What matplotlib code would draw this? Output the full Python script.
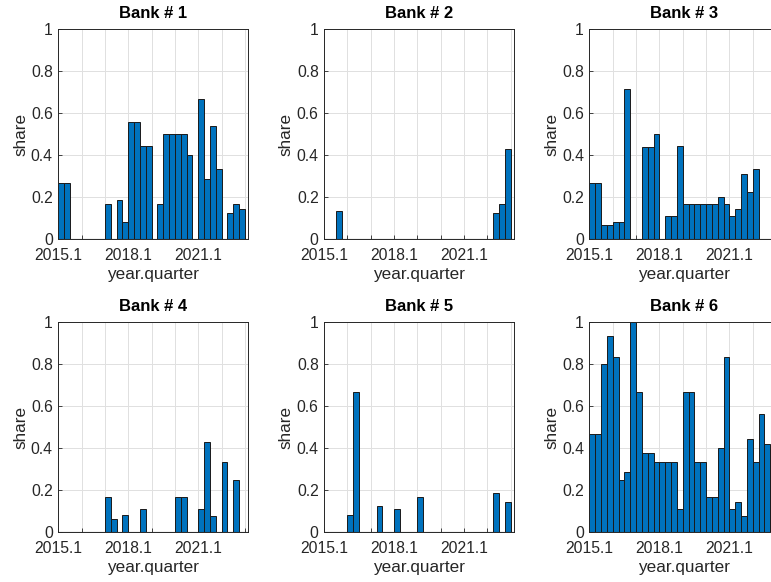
import matplotlib
matplotlib.use("Agg")
import matplotlib.pyplot as plt
import numpy as np

plt.rcParams['font.family'] = ['Liberation Sans', 'DejaVu Sans']

quarters = list(range(32))  # 2015Q1 .. 2022Q4
tick_labels = ['2015.1', '', '', '2018.1', '', '', '2021.1', '', '']
titles = ['Bank # 1', 'Bank # 2', 'Bank # 3', 'Bank # 4', 'Bank # 5', 'Bank # 6']

bank1 = [0.267, 0.267, 0, 0, 0, 0, 0, 0, 0.167, 0, 0.1875, 0.083, 0.556, 0.556, 0.444, 0.444,
         0, 0.167, 0.5, 0.5, 0.5, 0.5, 0.4, 0, 0.667, 0.286, 0.54, 0.333, 0, 0.125, 0.167, 0.143]
bank2 = [0, 0, 0.133, 0, 0, 0, 0, 0, 0, 0, 0, 0, 0, 0, 0, 0,
         0, 0, 0, 0, 0, 0, 0, 0, 0, 0, 0, 0, 0, 0.125, 0.167, 0.429]
bank3 = [0.267, 0.267, 0.067, 0.067, 0.083, 0.083, 0.714, 0, 0, 0.4375, 0.4375, 0.5, 0, 0.111, 0.111, 0.444,
         0.167, 0.167, 0.167, 0.167, 0.167, 0.167, 0.2, 0.167, 0.111, 0.143, 0.308, 0.222, 0.333, 0, 0, 0]
bank4 = [0, 0, 0, 0, 0, 0, 0, 0, 0.167, 0.0625, 0, 0.083, 0, 0, 0.111, 0,
         0, 0, 0, 0, 0.167, 0.167, 0, 0, 0.111, 0.429, 0.077, 0, 0.333, 0, 0.25, 0]
bank5 = [0, 0, 0, 0, 0.083, 0.667, 0, 0, 0, 0.125, 0, 0, 0.111, 0, 0, 0,
         0.167, 0, 0, 0, 0, 0, 0, 0, 0, 0, 0, 0, 0, 0.1875, 0, 0.143]
bank6 = [0.467, 0.467, 0.8, 0.933, 0.833, 0.25, 0.286, 1.0, 0.667, 0.375, 0.375, 0.333, 0.333, 0.333, 0.333, 0.111,
         0.667, 0.667, 0.333, 0.333, 0.167, 0.167, 0.4, 0.833, 0.111, 0.143, 0.077, 0.444, 0.333, 0.5625, 0.417, 0.4]

banks = [bank1, bank2, bank3, bank4, bank5, bank6]

W, H = 771, 582
fig = plt.figure(figsize=(W / 100, H / 100), dpi=100)

col_left = [57.7, 323.5, 588.8]
row_bottom = [239, 532]
ax_w, ax_h = 190.5, 210

txt = '#262626'
x = np.array(quarters) + 0.5
for k, vals in enumerate(banks):
    r, c = divmod(k, 3)
    ax = fig.add_axes([col_left[c] / W, (H - row_bottom[r]) / H, ax_w / W, ax_h / H])
    ax.set_axisbelow(True)
    ax.bar(x, vals, width=1.0, color='#0072BD', edgecolor='#1a1a1a', linewidth=0.7)
    ax.set_xlim(-0.1, 32.56)
    ax.set_ylim(0, 1)
    ax.set_xticks(range(0, 33, 4))
    ax.set_xticklabels(tick_labels)
    ax.set_yticks([0, 0.2, 0.4, 0.6, 0.8, 1.0])
    ax.set_yticklabels(['0', '0.2', '0.4', '0.6', '0.8', '1'])
    ax.grid(True, color='#e0e0e0', linewidth=0.7)
    ax.tick_params(direction='in', length=3, width=0.6, colors=txt, labelsize=11.3)
    ax.tick_params(axis='x', pad=6.5)
    ax.tick_params(axis='y', pad=3.5)
    for s in ax.spines.values():
        s.set_color(txt)
        s.set_linewidth(0.7)
    ax.axhline(0, color='#1a1a1a', linewidth=0.8, zorder=3)
    ax.set_title(titles[k], fontsize=12, fontweight='bold', pad=8, color='black')
    ax.set_xlabel('year.quarter', fontsize=12.3, color=txt, labelpad=3)
    ax.set_ylabel('share', fontsize=12.3, color=txt, labelpad=2)

fig.savefig('out.png', dpi=100)
